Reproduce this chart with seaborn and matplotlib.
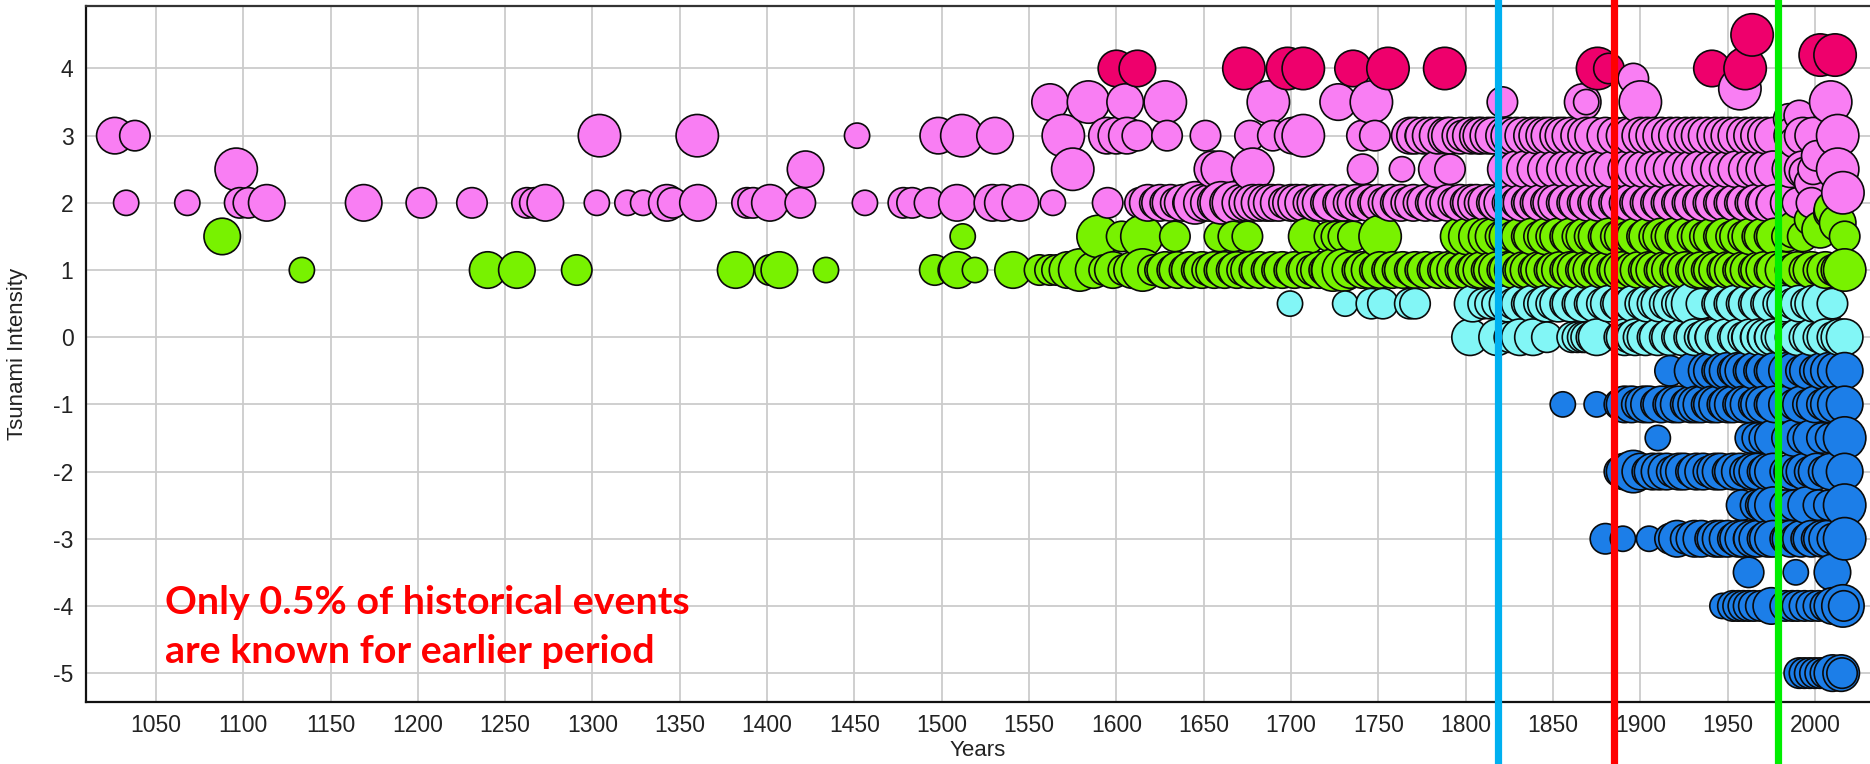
import matplotlib
matplotlib.use("Agg")
import matplotlib.pyplot as plt
import pandas as pd
import seaborn as sns

# ---------------------------------------------------------------------------
# Tsunami events: (year, rank) pairs for each intensity level.
# rank is a relative bubble-size class (1 = smallest, 4 = largest).
# ---------------------------------------------------------------------------
level_4_5 = [(1964, 4)]
level_4_2 = [(2003, 4), (2011.5, 4)]
level_4 = [(1600, 3), (1612, 3), (1673, 4), (1698, 4), (1707, 4), (1735.5, 3),
           (1755.5, 4), (1788, 4), (1875.5, 4), (1882, 2), (1941, 3), (1960, 4)]

level_3_85 = [(1896, 2)]
level_3_7 = [(1957, 4)]
level_3_5 = [(1562, 3), (1584, 4), (1605, 3), (1628, 4), (1687, 4), (1727, 3),
             (1746, 4), (1821, 2), (1867, 3), (1869, 1), (1900, 4), (2009, 4)]
level_3 = [(1026.5, 3), (1038, 2), (1304, 4), (1360, 4), (1451.5, 1), (1498, 3),
           (1511.5, 4), (1530.5, 3), (1569.6, 4), (1594.6, 3), (1600, 3), (1606, 3),
           (1612, 2), (1629, 2), (1651, 2), (1676.5, 2), (1689.6, 2), (1701, 3),
           (1707, 4), (1740.6, 2), (1748, 2), (1768, 3), (1771, 3), (1774, 2),
           (1776, 3), (1780, 3), (1784, 3), (1789, 3), (1791, 3), (1797, 3),
           (1798, 2), (1803, 3), (1807, 3), (1809, 3), (1813, 3), (1816, 3),
           (1822, 3), (1825, 3), (1829, 3), (1833, 3), (1838, 3), (1841, 3),
           (1845, 3), (1848, 3), (1853, 3), (1856, 3), (1860, 3), (1865, 3),
           (1869, 3), (1873, 3), (1880, 3), (1886, 3), (1891, 3), (1895, 3),
           (1900, 3), (1904, 3), (1908, 3), (1912, 3), (1917, 3), (1921, 3),
           (1926, 3), (1930, 3), (1934, 3), (1938, 3), (1943, 3), (1947, 3),
           (1951, 3), (1955, 3), (1960, 3), (1964, 3), (1968, 3), (1972, 3),
           (1976, 3), (1987, 3), (1993, 3), (1999, 3), (2013, 4)]
level_2_5 = [(1096, 4), (1422, 3), (1575, 4), (1655, 3), (1659, 3), (1678, 4),
             (1741, 2), (1763.5, 1), (1783.5, 3), (1791, 2), (1823, 3), (1829, 3),
             (1834, 3), (1840, 3), (1846, 3), (1851, 3), (1857, 3), (1862, 3),
             (1868, 3), (1874, 3), (1879, 3), (1884, 3), (1892, 3), (1897, 3),
             (1902, 3), (1908, 3), (1913, 3), (1918, 3), (1924, 3), (1929, 3),
             (1934, 3), (1940, 3), (1945, 3), (1950, 3), (1955, 3), (1961, 3),
             (1966, 3), (1971, 3), (1976, 3), (1986, 3), (1993, 3), (1999, 2),
             (2013, 4)]
level_2 = [(1033, 1), (1068, 1), (1098, 2), (1103, 2), (1113.5, 3), (1169, 3),
           (1202, 2), (1231, 2), (1262.5, 2), (1267, 2), (1273, 3), (1302.5, 1),
           (1320, 1), (1329, 1), (1342.6, 3), (1346, 2), (1360.4, 3), (1388.5, 2),
           (1392, 2), (1401.6, 3), (1419, 2), (1456, 1), (1478, 2), (1483, 2),
           (1493, 2), (1508.7, 3), (1529, 3), (1535, 3), (1545, 3), (1563.6, 1),
           (1595, 2), (1613.5, 2), (1618, 3), (1622, 2), (1625, 3), (1628, 2),
           (1631, 3), (1634, 2), (1638, 3), (1641, 2), (1645, 4), (1649, 3),
           (1653, 3), (1657, 3), (1660, 4), (1664, 3), (1667, 4), (1671, 3),
           (1675, 3), (1678, 3), (1682, 3), (1686, 3), (1689, 3), (1693, 3),
           (1696, 2), (1700, 3), (1703, 3), (1707, 3), (1710, 2), (1714, 3),
           (1717, 3), (1720, 2), (1723, 3), (1727, 2), (1730, 3), (1733, 2),
           (1737, 3), (1740, 2), (1744, 3), (1747, 2), (1750, 3), (1753, 2),
           (1757, 3), (1760, 2), (1763, 3), (1766, 2), (1770, 3), (1773, 2),
           (1777, 3), (1780, 2), (1783, 3), (1786, 2), (1790, 3), (1793, 2),
           (1797, 3), (1800, 2), (1803, 3), (1806, 3), (1808, 2), (1812, 3),
           (1815, 2), (1818, 3), (1821, 3), (1824, 2), (1827, 3), (1829, 2),
           (1832, 3), (1835, 2), (1838, 3), (1840, 2), (1843, 3), (1846, 2),
           (1849, 3), (1852, 3), (1855, 2), (1858, 3), (1861, 2), (1864, 3),
           (1867, 2), (1870, 3), (1873, 2), (1876, 3), (1879, 2), (1882, 3),
           (1885, 2), (1888, 3), (1891, 2), (1894, 3), (1897, 2), (1900, 3),
           (1903, 2), (1906, 3), (1909, 2), (1912, 3), (1915, 2), (1918, 3),
           (1921, 2), (1924, 3), (1927, 2), (1930, 3), (1933, 2), (1936, 3),
           (1939, 2), (1942, 3), (1945, 2), (1948, 3), (1951, 2), (1954, 3),
           (1957, 2), (1960, 3), (1963, 2), (1966, 3), (1969, 2), (1972, 3),
           (1975, 2), (1977, 3), (1985, 3), (1990, 2), (1998, 2)]

level_1_5 = [(1088, 3), (1512, 1), (1589.5, 4), (1603, 2), (1614.6, 4), (1633.5, 2),
             (1659, 2), (1667, 2), (1675, 2), (1709, 3), (1722, 2), (1726, 2),
             (1730, 2), (1735.5, 2), (1751, 4), (1796, 3), (1800.7, 3), (1806.5, 3),
             (1812, 3), (1816, 3), (1820, 2), (1824, 3), (1827, 2), (1831, 3),
             (1835, 2), (1838, 3), (1842, 2), (1846, 3), (1849, 2), (1853, 3),
             (1857, 2), (1860, 3), (1864, 2), (1868, 3), (1871, 2), (1875, 3),
             (1879, 2), (1882, 3), (1886, 2), (1890, 3), (1893, 2), (1897, 3),
             (1901, 2), (1904, 3), (1908, 2), (1912, 3), (1915, 2), (1919, 3),
             (1923, 2), (1926, 3), (1930, 2), (1934, 3), (1937, 2), (1941, 3),
             (1945, 2), (1948, 3), (1952, 2), (1956, 3), (1959, 2), (1963, 3),
             (1967, 2), (1970, 3), (1974, 2), (1977, 3), (1984, 2), (1993, 2),
             (2017, 2)]
level_1 = [(1133.6, 1), (1240, 3), (1256.7, 3), (1291, 2), (1382, 3), (1401.6, 2),
           (1407, 3), (1433.7, 1), (1496, 2), (1506.6, 2), (1509, 3), (1519, 1),
           (1540.8, 3), (1556, 2), (1562, 2), (1566, 2), (1572, 3), (1579, 4),
           (1587, 3), (1593, 2), (1598, 3), (1604, 2), (1609, 3), (1615, 4),
           (1621, 2), (1625, 2), (1628, 3), (1632, 2), (1635, 3), (1639, 2),
           (1642, 3), (1646, 2), (1649, 3), (1652, 2), (1656, 3), (1659, 2),
           (1662, 3), (1666, 2), (1669, 3), (1672, 2), (1676, 3), (1679, 2),
           (1682, 3), (1686, 2), (1689, 3), (1692, 2), (1695, 3), (1699, 2),
           (1702, 3), (1706, 2), (1709, 3), (1712, 2), (1716, 3), (1719, 2),
           (1722, 3), (1724, 4), (1730, 4), (1734, 3), (1738, 2), (1741, 3),
           (1745, 3), (1748, 2), (1751, 3), (1755, 2), (1758, 3), (1761, 2),
           (1764, 3), (1768, 2), (1771, 3), (1774, 2), (1777, 3), (1781, 2),
           (1784, 3), (1787, 2), (1790, 3), (1794, 3), (1797, 2), (1800, 3),
           (1803, 2), (1806, 3), (1809, 3), (1812, 2), (1815, 3), (1818, 3),
           (1821, 2), (1824, 3), (1827, 3), (1830, 2), (1833, 3), (1836, 3),
           (1839, 2), (1842, 3), (1845, 3), (1848, 2), (1851, 3), (1854, 3),
           (1857, 2), (1860, 3), (1863, 3), (1866, 2), (1869, 3), (1872, 3),
           (1875, 2), (1878, 3), (1881, 3), (1884, 2), (1887, 3), (1890, 3),
           (1893, 2), (1896, 3), (1899, 3), (1902, 2), (1905, 3), (1908, 3),
           (1911, 2), (1914, 3), (1917, 3), (1920, 2), (1923, 3), (1926, 3),
           (1929, 2), (1932, 3), (1935, 3), (1938, 2), (1941, 3), (1944, 3),
           (1947, 2), (1950, 3), (1953, 3), (1956, 2), (1959, 3), (1962, 3),
           (1965, 2), (1968, 3), (1971, 3), (1974, 2), (1977, 3), (1982, 3),
           (1986, 2), (1990, 3), (1994, 2), (1998, 3), (2002, 2), (2006, 3),
           (2010, 2), (2014, 3), (2017, 4)]

level_0_5 = [(1699.4, 1), (1731, 1), (1746, 2), (1752.6, 2), (1768, 2), (1771, 2),
             (1804, 3), (1810, 2), (1814, 2), (1818, 2), (1824, 3), (1827, 2),
             (1831, 3), (1835, 2), (1838, 3), (1842, 2), (1846, 3), (1849, 2),
             (1853, 3), (1857, 2), (1860, 3), (1864, 2), (1867, 3), (1871, 2),
             (1874, 3), (1878, 2), (1882, 3), (1886, 2), (1889, 3), (1893, 2),
             (1896, 3), (1900, 2), (1904, 3), (1907, 2), (1911, 3), (1914, 2),
             (1918, 3), (1921, 2), (1925, 3), (1930, 4), (1935, 2), (1944, 2),
             (1947, 3), (1951, 2), (1954, 3), (1958, 2), (1961, 3), (1965, 2),
             (1968, 3), (1972, 2), (1975, 3), (1979, 2), (1983, 3), (1987, 2),
             (1991, 3), (1995, 2), (1999, 3), (2005, 4), (2010, 2)]
level_0 = [(1802.5, 3), (1818, 3), (1825, 2), (1831, 3), (1838.5, 3), (1846.5, 2),
           (1861, 2), (1864, 2), (1867, 2), (1869, 2), (1872, 2), (1875, 3),
           (1888, 2), (1891, 3), (1893, 2), (1895, 2), (1897, 3), (1899, 2),
           (1903, 3), (1907, 2), (1910, 3), (1914, 2), (1917, 3), (1921, 2),
           (1924, 3), (1928, 2), (1931, 3), (1934, 2), (1936, 2), (1938, 3),
           (1940, 2), (1942, 3), (1946, 2), (1949, 3), (1953, 2), (1956, 3),
           (1959, 2), (1961, 2), (1963, 3), (1966, 2), (1968, 3), (1970, 2),
           (1972, 3), (1974, 2), (1976, 3), (1978, 2), (1982, 3), (1986, 2),
           (1990, 3), (1994, 2), (1998, 3), (2002, 2), (2006, 3), (2010, 2),
           (2014, 3), (2017, 3)]

level_m0_5 = [(1917, 2), (1930, 3), (1938, 3), (1941, 3), (1944, 2), (1947, 3),
              (1950, 3), (1953, 2), (1956, 3), (1959, 3), (1962, 2), (1965, 3),
              (1968, 2), (1971, 3), (1974, 2), (1977, 3), (1984, 3), (1988, 3),
              (1992, 2), (1996, 3), (2000, 2), (2004, 3), (2008, 3), (2012, 3),
              (2017, 3)]
level_m1 = [(1855.6, 1), (1875, 1), (1888, 2), (1891, 3), (1895, 3), (1898, 2),
            (1902, 3), (1905, 3), (1909, 2), (1912, 3), (1916, 2), (1919, 3),
            (1922, 3), (1926, 2), (1929, 3), (1932, 3), (1935, 3), (1938, 2),
            (1941, 3), (1944, 3), (1947, 2), (1950, 3), (1953, 3), (1956, 2),
            (1959, 3), (1962, 3), (1965, 2), (1968, 3), (1971, 3), (1974, 2),
            (1977, 3), (1984, 3), (1988, 2), (1992, 3), (1996, 2), (2000, 3),
            (2004, 2), (2008, 3), (2012, 3), (2017, 3)]
level_m1_5 = [(1910, 1), (1963, 2), (1967, 2), (1971, 2), (1976, 3), (1984, 2),
              (1988, 3), (1993, 2), (1998, 3), (2004, 2), (2009, 2), (2017, 4)]
level_m2 = [(1888, 2), (1891, 3), (1896, 4), (1900, 3), (1904, 2), (1907, 3),
            (1911, 3), (1915, 3), (1918, 2), (1922, 3), (1925, 3), (1929, 2),
            (1932, 3), (1936, 3), (1939, 2), (1943, 3), (1946, 3), (1950, 2),
            (1953, 3), (1957, 3), (1960, 2), (1964, 3), (1967, 3), (1970, 2),
            (1973, 3), (1976, 3), (1983, 2), (1987, 3), (1990, 2), (1994, 3),
            (1997, 2), (2001, 3), (2005, 2), (2009, 3), (2017, 3)]
level_m2_5 = [(1958, 2), (1966, 2), (1969, 2), (1972, 3), (1976, 3), (1983, 2),
              (1988, 2), (1995, 3), (2002, 2), (2008, 2), (2017, 4)]
level_m3 = [(1880, 2), (1890, 1), (1905, 1), (1917, 2), (1921, 3), (1926, 2),
            (1931, 3), (1935, 3), (1940, 2), (1943, 3), (1946, 3), (1950, 3),
            (1953, 2), (1956, 3), (1959, 3), (1962, 2), (1964, 3), (1967, 3),
            (1970, 2), (1973, 3), (1976, 3), (1983, 2), (1986, 3), (1989, 2),
            (1992, 3), (1995, 2), (1998, 3), (2001, 2), (2004, 3), (2007, 3),
            (2010, 2), (2017, 4)]
level_m3_5 = [(1962, 2), (1989, 1), (2010, 3)]
level_m4 = [(1947, 1), (1953, 2), (1956, 2), (1959, 2), (1962, 2), (1965, 2),
            (1969, 2), (1975, 3), (1983, 2), (1987, 2), (1990, 2), (1994, 2),
            (1998, 2), (2002, 2), (2006, 2), (2010, 3), (2016, 4), (2016.5, 2)]
level_m5 = [(1991, 2), (1994, 2), (1997, 2), (2000, 2), (2003, 2), (2006, 2),
            (2010, 3), (2015, 3), (2015.5, 2)]

# Recent events (1985-2020) scattered between the half-unit levels
recent_spread = [(1985, 3.25, 2), (1988, 2.9, 2), (1991, 3.3, 2), (1994, 2.45, 2),
                 (1997, 2.3, 2), (2001, 2.7, 2), (2016, 2.15, 4), (1988, 1.6, 3),
                 (1997, 1.75, 2), (2003, 1.6, 3), (2008, 1.85, 2), (2010, 1.9, 3),
                 (2013, 1.7, 3)]

# Reference years marked with vertical lines
mark_years = [1818.5, 1885, 1978.6]
mark_colors = ["#00B0F0", "#FF0000", "#00EE00"]

x_ticks = list(range(1050, 2001, 50))
y_ticks = list(range(-5, 5))

note_text = "Only 0.5% of historical events\nare known for earlier period"

# ---------------------------------------------------------------------------
levels = [(4.5, level_4_5), (4.2, level_4_2), (4.0, level_4), (3.85, level_3_85),
          (3.7, level_3_7), (3.5, level_3_5), (3.0, level_3), (2.5, level_2_5),
          (2.0, level_2), (1.5, level_1_5), (1.0, level_1), (0.5, level_0_5),
          (0.0, level_0), (-0.5, level_m0_5), (-1.0, level_m1), (-1.5, level_m1_5),
          (-2.0, level_m2), (-2.5, level_m2_5), (-3.0, level_m3), (-3.5, level_m3_5),
          (-4.0, level_m4), (-5.0, level_m5)]

rows = []
for inten, events in levels:
    for yr, rank in events:
        rows.append((yr, inten, rank))
rows.extend(recent_spread)
df = pd.DataFrame(rows, columns=["year", "intensity", "rank"])
df = df.sort_values("year", kind="stable").reset_index(drop=True)


def band(v):
    if v >= 4:
        return "extreme"
    if v >= 2:
        return "high"
    if v >= 1:
        return "moderate"
    if v >= 0:
        return "light"
    return "weak"


df["band"] = df["intensity"].map(band)

palette = {"extreme": "#EE006C", "high": "#F97EF3", "moderate": "#78F200",
           "light": "#82F6F6", "weak": "#1C7EE8"}
# marker areas (pt^2) for the rank classes
size_map = {1: 330, 2: 480, 3: 690, 4: 930}

sns.set_theme(style="white")
plt.rcParams["font.family"] = ["Liberation Sans Narrow", "Liberation Sans",
                               "DejaVu Sans"]

fig = plt.figure(figsize=(18.7, 7.64), dpi=100)
ax = fig.add_axes([86 / 1870, 62 / 764, 1784 / 1870, 696 / 764])

sns.scatterplot(data=df, x="year", y="intensity", hue="band", palette=palette,
                size="rank", sizes=size_map, edgecolor="#0A0A0A", linewidth=1.2,
                legend=False, ax=ax, zorder=3)

ax.set_xlim(1010, 2031.5)
ax.set_ylim(-5.43, 4.93)
ax.set_xticks(x_ticks)
ax.set_yticks(y_ticks)
ax.set_xticklabels([str(t) for t in x_ticks])
ax.set_yticklabels([str(t) for t in y_ticks])
ax.tick_params(axis="both", length=0, labelsize=16.5, colors="#222222")
ax.tick_params(axis="x", pad=9)
ax.tick_params(axis="y", pad=9)

ax.grid(True, color="#CBCBCB", linewidth=1.3)
ax.set_axisbelow(True)

for side in ["left", "bottom"]:
    ax.spines[side].set_color("#111111")
    ax.spines[side].set_linewidth(1.6)
ax.spines["top"].set_color("#333333")
ax.spines["top"].set_linewidth(1.6)
ax.spines["right"].set_visible(False)

ax.set_xlabel("Years", fontsize=16, color="#222222")
ax.set_ylabel("Tsunami Intensity", fontsize=16, color="#222222")
ax.xaxis.set_label_coords(0.5, -0.069)
ax.xaxis.label.set_va("center")
ax.yaxis.set_label_coords(-0.0385, 0.5)
ax.yaxis.label.set_va("center")

for yr, col in zip(mark_years, mark_colors):
    ax.axvline(yr, ymin=-0.12, ymax=1.02, color=col, linewidth=5.2,
               clip_on=False, zorder=6)

ax.text(1055, -4.31, note_text, color="#FF0000", fontsize=28.4,
        fontweight="bold", family=["Lato", "DejaVu Sans"], ha="left",
        va="center", linespacing=1.5, zorder=7)

fig.savefig("out.png", dpi=100)
